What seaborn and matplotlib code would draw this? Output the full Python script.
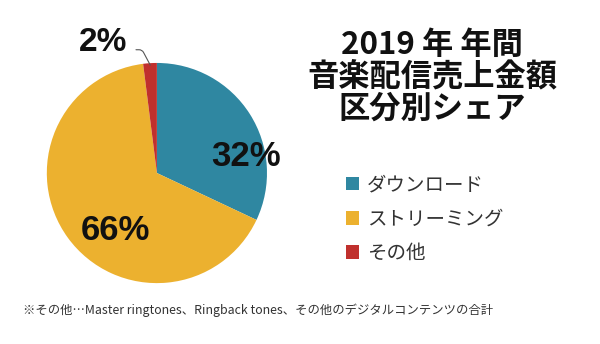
import matplotlib
matplotlib.use("Agg")
import matplotlib.pyplot as plt
import seaborn as sns

sns.set_theme(style="white")
plt.rcParams['font.family'] = ['Noto Sans CJK JP', 'DejaVu Sans']

categories = ["ダウンロード", "ストリーミング", "その他"]
shares = [32, 66, 2]
colors = ["#2f87a1", "#ecb12f", "#c0302d"]
pct_labels = ["32%", "66%", "2%"]
title_lines = ["2019 年 年間", "音楽配信売上金額", "区分別シェア"]
footnote = "※その他…Master ringtones、Ringback tones、その他のデジタルコンテンツの合計"

fig = plt.figure(figsize=(6.0, 3.44), dpi=100)
fig.patch.set_facecolor("white")

ax = fig.add_axes([0.078, 0.177, 0.367, 0.64])
wedges, _ = ax.pie(shares, colors=colors, startangle=90, counterclock=False,
                   radius=1.0, wedgeprops=dict(linewidth=0))
ax.set_xlim(-1, 1)
ax.set_ylim(-1, 1)
ax.set_aspect("equal")
ax.axis("off")

pfont = dict(family=['Liberation Sans', 'DejaVu Sans'], fontweight='bold', color='#111111')
ax.text(0.81, 0.15, pct_labels[0], ha='center', va='center', fontsize=25, **pfont)
ax.text(-0.38, -0.52, pct_labels[1], ha='center', va='center', fontsize=25, **pfont)
ax.text(-0.49, 1.19, pct_labels[2], ha='center', va='center', fontsize=24, **pfont)
ax.annotate("", xy=(-0.06, 0.98), xytext=(-0.19, 1.12),
            arrowprops=dict(arrowstyle='-', color='#555555', lw=0.8,
                            shrinkA=0, shrinkB=0,
                            connectionstyle='angle,angleA=0,angleB=118,rad=3'),
            annotation_clip=False)

for i, line in enumerate(title_lines):
    fig.text(0.72, 1 - (45 + i * 32) / 344, line, ha='center', va='center',
             fontsize=22.5, fontweight='bold', color='#111111')

leg = fig.legend(wedges, categories, loc='upper left',
                 bbox_to_anchor=(0.547, 1 - 157 / 344), frameon=False,
                 handlelength=0.7, handleheight=0.7, handletextpad=0.4,
                 labelspacing=0.67, fontsize=14, labelcolor='#333333')

fig.text(0.038, 1 - 310 / 344, footnote, ha='left', va='center',
         fontsize=8.9, color='#333333')

fig.savefig("out.png", dpi=100, facecolor="white")
